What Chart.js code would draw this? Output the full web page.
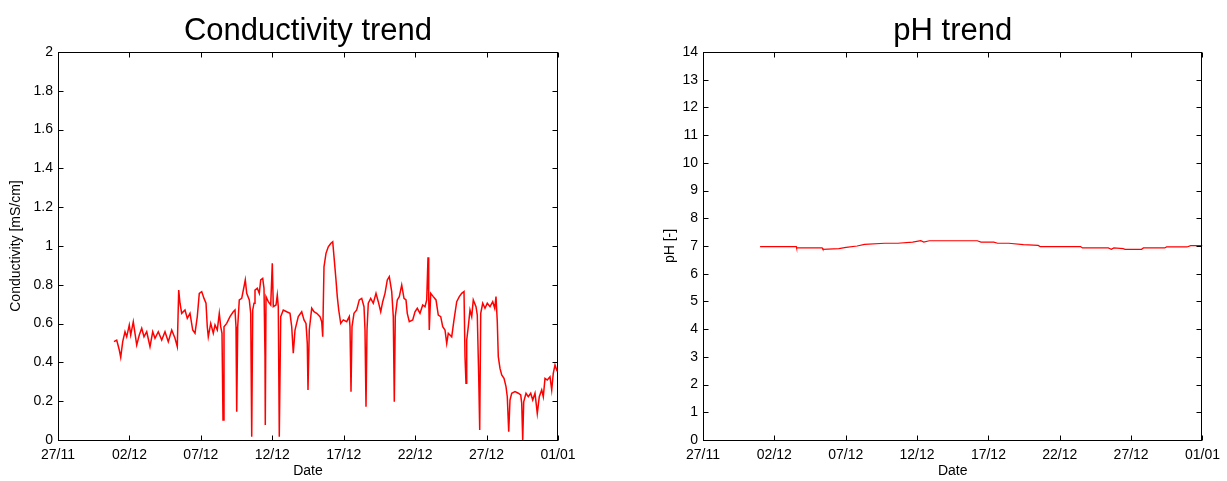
<!DOCTYPE html>
<html>
<head>
<meta charset="utf-8">
<script src="https://cdn.jsdelivr.net/npm/chart.js@4.4.1/dist/chart.umd.min.js"></script>
<style>
  html, body { margin:0; padding:0; background:#fff; overflow:hidden; }
  .panel { position:absolute; top:0; width:613px; height:481px; }
  #leftPanel { left:0; }
  #rightPanel { left:614px; }
</style>
</head>
<body>
<div class="panel" id="leftPanel"><canvas id="condChart"></canvas></div>
<div class="panel" id="rightPanel"><canvas id="phChart"></canvas></div>
<script>
// x values are days since 27/11
const dateTickLabels = ["27/11","02/12","07/12","12/12","17/12","22/12","27/12","01/01"];
const condTickLabels = ["0","0.2","0.4","0.6","0.8","1","1.2","1.4","1.6","1.8","2"];
const phTickLabels = ["0","1","2","3","4","5","6","7","8","9","10","11","12","13","14"];

const condDays = [
  3.92,4.11,4.29,4.39,4.53,4.69,4.81,4.99,5.09,5.27,5.39,5.51,5.69,5.86,6.02,6.21,6.44,6.63,6.79,7.02,
  7.26,7.49,7.72,7.96,8.19,8.35,8.45,8.54,8.66,8.89,9.05,9.24,9.43,9.59,9.75,9.89,10.06,10.22,10.36,10.45,
  10.52,10.69,10.87,10.99,11.15,11.29,11.39,11.48,11.55,11.62,11.81,12.04,12.27,12.39,12.46,12.51,12.58,12.69,12.86,13.02,
  13.11,13.21,13.39,13.49,13.56,13.63,13.72,13.79,13.95,14.09,14.19,14.33,14.42,14.49,14.51,14.56,14.72,14.89,15.0,15.07,
  15.26,15.35,15.42,15.49,15.59,15.77,16.01,16.24,16.36,16.47,16.59,16.82,17.06,17.22,17.36,17.45,17.5,17.59,17.76,17.92,
  18.11,18.34,18.46,18.53,18.62,18.76,18.92,19.09,19.23,19.32,19.46,19.55,19.65,19.79,19.97,20.21,20.39,20.44,20.51,20.58,
  20.72,20.91,21.09,21.26,21.42,21.49,21.56,21.63,21.72,21.89,22.07,22.26,22.42,22.59,22.73,22.89,23.05,23.19,23.36,23.47,
  23.54,23.61,23.75,23.89,24.06,24.22,24.36,24.45,24.59,24.83,24.99,25.15,25.34,25.53,25.69,25.81,25.9,25.95,25.99,26.09,
  26.27,26.46,26.62,26.79,26.93,27.09,27.21,27.32,27.56,27.72,27.91,28.09,28.26,28.42,28.49,28.56,28.61,28.72,28.84,28.96,
  29.07,29.26,29.35,29.45,29.52,29.59,29.73,29.89,30.05,30.24,30.43,30.57,30.66,30.75,30.82,30.94,31.06,31.22,31.36,31.45,
  31.55,31.64,31.76,31.99,32.22,32.39,32.46,32.53,32.6,32.76,32.92,33.09,33.23,33.39,33.55,33.69,33.86,33.97,34.09,34.25,
  34.44,34.56,34.67,34.79,34.91,34.98
];
const condValues = [
  0.507,0.515,0.464,0.426,0.507,0.558,0.532,0.593,0.541,0.61,0.55,0.49,0.541,0.576,0.532,0.558,0.481,0.558,0.524,0.558,
  0.515,0.558,0.507,0.567,0.524,0.481,0.773,0.705,0.653,0.67,0.627,0.653,0.567,0.55,0.636,0.756,0.765,0.73,0.705,0.584,
  0.532,0.601,0.55,0.593,0.567,0.653,0.584,0.55,0.103,0.584,0.601,0.636,0.661,0.67,0.584,0.146,0.584,0.722,0.73,0.79,
  0.825,0.756,0.722,0.653,0.017,0.67,0.705,0.773,0.782,0.756,0.825,0.833,0.782,0.43,0.077,0.739,0.713,0.696,0.911,0.687,
  0.696,0.747,0.687,0.017,0.636,0.67,0.661,0.653,0.584,0.447,0.567,0.636,0.661,0.619,0.601,0.498,0.258,0.567,0.679,0.661,
  0.653,0.636,0.61,0.532,0.893,0.962,0.996,1.013,1.022,0.945,0.825,0.739,0.67,0.601,0.619,0.61,0.636,0.584,0.249,0.584,
  0.653,0.67,0.722,0.73,0.687,0.567,0.172,0.567,0.705,0.73,0.705,0.756,0.713,0.661,0.713,0.756,0.825,0.842,0.765,0.636,
  0.197,0.636,0.722,0.739,0.799,0.73,0.722,0.653,0.61,0.619,0.661,0.679,0.653,0.696,0.687,0.722,0.942,0.739,0.567,0.756,
  0.739,0.722,0.644,0.636,0.584,0.567,0.498,0.55,0.532,0.619,0.713,0.739,0.756,0.765,0.43,0.292,0.515,0.584,0.67,0.636,
  0.722,0.687,0.644,0.326,0.052,0.653,0.705,0.679,0.705,0.687,0.713,0.679,0.739,0.61,0.43,0.369,0.335,0.318,0.275,0.223,
  0.043,0.206,0.241,0.249,0.241,0.232,0.189,0.0,0.197,0.241,0.223,0.241,0.206,0.241,0.137,0.223,0.258,0.223,0.318,0.309,
  0.326,0.258,0.344,0.387,0.361,0.369
];

const phDays = [
  4.0,6.54,6.56,8.35,8.4,9.52,10.03,10.8,11.32,12.74,13.65,14.69,15.26,15.47,15.86,19.22,19.48,20.38,20.64,21.42,
  22.45,23.49,23.62,26.46,26.59,28.4,28.61,28.79,29.44,29.57,30.73,30.86,32.35,32.48,33.91,34.17,35.0
];
const phValues = [
  6.976,6.976,6.93,6.93,6.88,6.905,6.95,7.0,7.06,7.1,7.1,7.14,7.19,7.14,7.19,7.19,7.14,7.14,7.1,7.1,
  7.05,7.02,6.98,6.98,6.93,6.93,6.88,6.93,6.905,6.88,6.88,6.93,6.93,6.965,6.965,7.01,7.01
];

const FONT = '"Liberation Sans", Arial, sans-serif';

// axes box, inward ticks on all four sides, and the centered title (matlab look)
const matlabBox = {
  id: 'matlabBox',
  afterDraw(chart, args, opts) {
    const {ctx, chartArea: a, scales: {x, y}} = chart;
    const L = Math.round(a.left) + 0.5, R = Math.round(a.right) - 0.5;
    const T = Math.round(a.top) + 0.5, B = Math.round(a.bottom) + 0.5;
    ctx.save();
    ctx.strokeStyle = '#000';
    ctx.lineWidth = 1;
    ctx.strokeRect(L, T, R - L, B - T);
    ctx.beginPath();
    x.ticks.forEach(t => {
      const px = Math.round(x.getPixelForValue(t.value)) + 0.5;
      ctx.moveTo(px, B); ctx.lineTo(px, B - 5);
      ctx.moveTo(px, T); ctx.lineTo(px, T + 5);
    });
    y.ticks.forEach(t => {
      const py = Math.round(y.getPixelForValue(t.value)) + 0.5;
      ctx.moveTo(L, py); ctx.lineTo(L + 5, py);
      ctx.moveTo(R, py); ctx.lineTo(R - 5, py);
    });
    ctx.stroke();
    ctx.fillStyle = '#000';
    ctx.font = '31px ' + FONT;
    ctx.textAlign = 'center';
    ctx.textBaseline = 'alphabetic';
    ctx.fillText(opts.title, (a.left + a.right) / 2, 39.5);
    ctx.restore();
  }
};

function makeChart(canvasId, opt){
  const pts = opt.days.map((d, i) => ({x: d, y: opt.values[i]}));
  return new Chart(document.getElementById(canvasId), {
    type: 'scatter',
    data: { datasets: [{
      data: pts, showLine: true, borderColor: '#ff0000', borderWidth: opt.lineWidth,
      pointRadius: 0, tension: 0, fill: false
    }]},
    plugins: [matlabBox],
    options: {
      animation: false,
      responsive: true,
      maintainAspectRatio: false,
      devicePixelRatio: 1,
      layout: { padding: { top: 52, right: opt.padRight, bottom: 0, left: 0 } },
      plugins: {
        legend: { display: false },
        tooltip: { enabled: false },
        matlabBox: { title: opt.title }
      },
      scales: {
        x: {
          type: 'linear', min: 0, max: 35,
          grid: { display: false, drawTicks: false },
          border: { display: false },
          ticks: {
            stepSize: 5, padding: 7, color: '#000', maxRotation: 0,
            font: { family: FONT, size: 14 },
            callback: v => dateTickLabels[Math.round(v / 5)]
          },
          title: { display: true, text: 'Date', color: '#000',
                   font: { family: FONT, size: 14 }, padding: { top: 0, bottom: 1 } },
          afterFit: s => { s.height = 41; }
        },
        y: {
          type: 'linear', min: 0, max: opt.yMax,
          grid: { display: false, drawTicks: false },
          border: { display: false },
          ticks: {
            stepSize: opt.yStep, padding: 5, color: '#000',
            font: { family: FONT, size: 14 },
            callback: (v, i) => opt.yLabels[i]
          },
          title: { display: true, text: opt.yTitle, color: '#000',
                   font: { family: FONT, size: 14 }, padding: { top: opt.yTitlePad, bottom: 0 } },
          afterFit: s => { s.width = opt.yWidth; }
        }
      }
    }
  });
}

makeChart('condChart', {
  days: condDays, values: condValues, title: 'Conductivity trend',
  yTitle: 'Conductivity [mS/cm]', yLabels: condTickLabels, yMax: 2, yStep: 0.2,
  yWidth: 58, yTitlePad: 8, padRight: 55, lineWidth: 1.5
});
makeChart('phChart', {
  days: phDays, values: phValues, title: 'pH trend',
  yTitle: 'pH [-]', yLabels: phTickLabels, yMax: 14, yStep: 1,
  yWidth: 89, yTitlePad: 48, padRight: 22, lineWidth: 1.2
});
</script>
</body>
</html>
